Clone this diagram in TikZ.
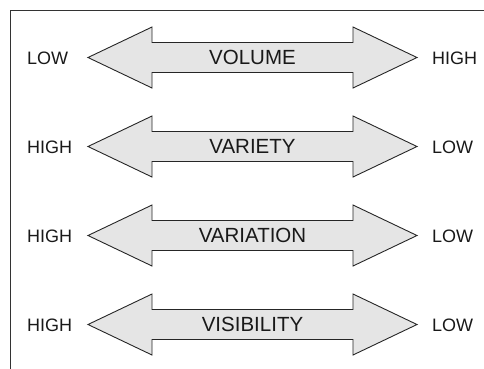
\documentclass[tikz,border=0pt]{standalone}
\usepackage{fontspec}
\setmainfont{Liberation Sans}
\begin{document}
\begin{tikzpicture}[x=1pt,y=-1pt,
  frame/.style={draw=black!80,line width=1pt},
  bigarrow/.style={draw=black!85,line width=0.9pt,fill=black!10,line join=miter},
  sidelabel/.style={inner sep=0pt,font=\fontsize{18}{20}\selectfont,text=black!90},
  arrowlabel/.style={inner sep=0pt,font=\fontsize{20.5}{22}\selectfont,text=black!90}]
\useasboundingbox (0,0) rectangle (484,368);
\clip (0,0) rectangle (484,368);
\draw[frame] (10,10) rectangle (500,380);
\foreach \c/\name/\lt/\rt [count=\i] in {57.5/VOLUME/LOW/HIGH,146.5/VARIETY/HIGH/LOW,235.5/VARIATION/HIGH/LOW,324.5/VISIBILITY/HIGH/LOW}{
  \draw[bigarrow] (88,\c) -- (152,\c-30.5) -- (152,\c-15) -- (353,\c-15) -- (353,\c-30.5)
    -- (417,\c) -- (353,\c+30.5) -- (353,\c+15) -- (152,\c+15) -- (152,\c+30.5) -- cycle;
  \node[arrowlabel] (a\i) at (252.5,\c) {\name};
  \node[sidelabel,anchor=west] (l\i) at (27,\c+0.5) {\lt};
  \node[sidelabel,anchor=west] (r\i) at (432,\c+0.5) {\rt};
}
\end{tikzpicture}
\end{document}
